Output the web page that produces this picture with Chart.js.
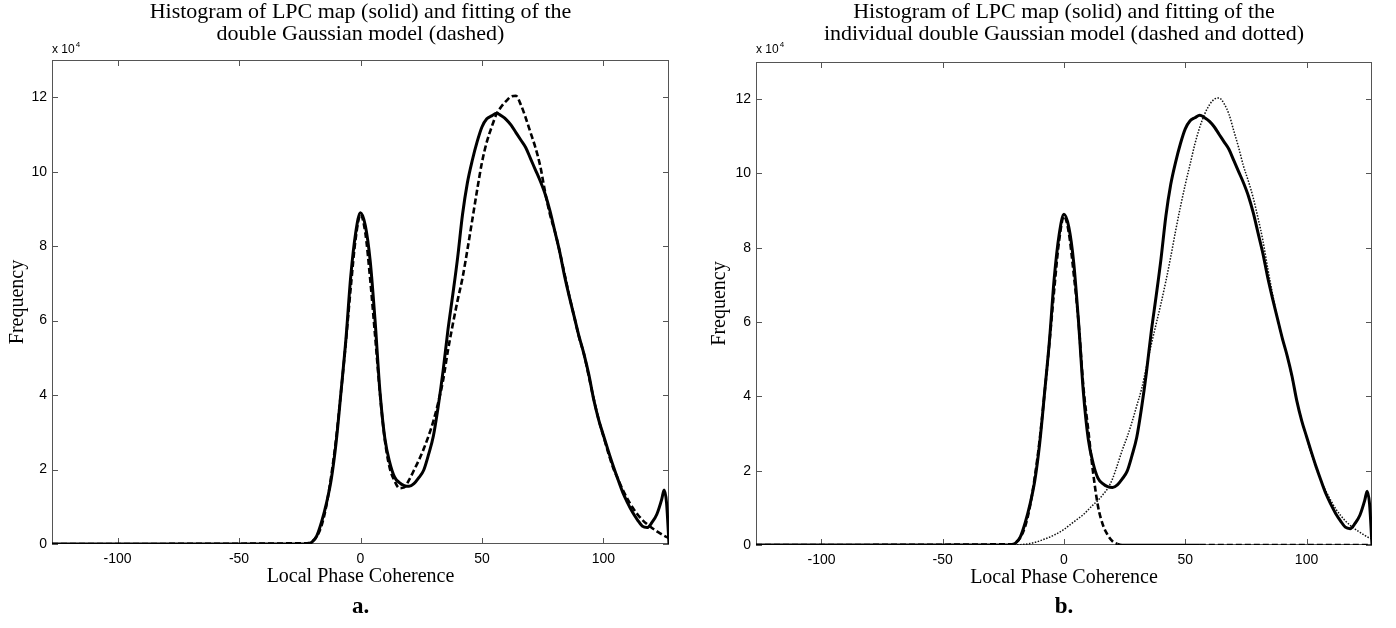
<!DOCTYPE html>
<html>
<head>
<meta charset="utf-8">
<title>LPC histogram and double Gaussian fit</title>
<script src="https://cdn.jsdelivr.net/npm/chart.js@4/dist/chart.umd.min.js"></script>
<style>
  html, body { margin: 0; padding: 0; background: #fff; }
  #wrap { position: relative; width: 1396px; height: 628px; }
  canvas { position: absolute; top: 0; }
  #chartA { left: 0; }
  #chartB { left: 698px; }
</style>
</head>
<body>
<div id="wrap">
  <canvas id="chartA" width="698" height="628"></canvas>
  <canvas id="chartB" width="698" height="628"></canvas>
</div>
<script>
// LPC values (x) where the curves are sampled
const lpcLevels = [-127,
  -22, -20, -18, -16, -14, -12, -10, -8, -6, -4, -2, 0, 2, 4, 6, 8, 10, 12, 14, 16,
  18, 20, 22, 24, 26, 28, 30, 32, 34, 36, 38, 40, 42, 44, 46, 48, 50, 52, 54, 56,
  58, 60, 62, 64, 66, 68, 70, 72, 74, 76, 78, 80, 82, 84, 86, 88, 90, 92, 94, 96,
  98, 100, 102, 104, 106, 108, 110, 112, 114, 116, 118, 120, 122, 124, 125, 126, 127];

// all frequencies are in units of 10^4
// histogram of the LPC map (solid)
const histCounts = [0,
  0, 0.05, 0.22, 0.6, 1.1, 1.75, 2.75, 4.1, 5.5, 7.2, 8.35, 8.9, 8.55, 7.6, 6.0, 4.1, 2.85, 2.2, 1.8, 1.65,
  1.57, 1.55, 1.62, 1.78, 1.98, 2.4, 2.9, 3.7, 4.65, 5.75, 6.7, 7.7, 8.85, 9.7, 10.3, 10.8, 11.2, 11.42, 11.5, 11.57,
  11.5, 11.4, 11.25, 11.05, 10.85, 10.65, 10.35, 10.05, 9.75, 9.4, 8.95, 8.4, 7.85, 7.2, 6.63, 6.1, 5.57, 5.1, 4.55, 3.88,
  3.35, 2.92, 2.5, 2.1, 1.73, 1.38, 1.1, 0.85, 0.65, 0.48, 0.44, 0.58, 0.8, 1.2, 1.45, 1.1, 0];

// double Gaussian model (sum of both components)
const fitSum = [0,
  0.02, 0.06, 0.2, 0.5, 1.05, 1.85, 2.85, 4.1, 5.45, 6.9, 8.2, 8.85, 8.35, 7.1, 5.6, 4.05, 2.8, 2.05, 1.7, 1.5,
  1.52, 1.72, 1.98, 2.25, 2.55, 2.9, 3.3, 3.8, 4.4, 5.2, 5.9, 6.55, 7.15, 7.9, 8.7, 9.5, 10.25, 10.8, 11.2, 11.55,
  11.75, 11.9, 12.02, 12.04, 11.8, 11.45, 11.05, 10.65, 10.15, 9.45, 8.85, 8.4, 7.85, 7.25, 6.65, 6.1, 5.55, 5.1, 4.5, 3.9,
  3.35, 2.9, 2.45, 2.05, 1.75, 1.45, 1.2, 0.98, 0.8, 0.65, 0.53, 0.43, 0.34, 0.26, 0.22, 0.19, 0.16];

// first Gaussian component (dashed)
const fitLow = [0,
  0.02, 0.06, 0.2, 0.5, 1.05, 1.85, 2.85, 4.1, 5.45, 6.9, 8.2, 8.85, 8.4, 7.3, 6.0, 4.25, 3.1, 1.95, 1.05, 0.55,
  0.27, 0.1, 0.03, 0, 0, 0, 0, 0, 0, 0, 0, 0, 0, 0, 0, 0, 0, 0, 0, 0,
  0, 0, 0, 0, 0, 0, 0, 0, 0, 0, 0, 0, 0, 0, 0, 0, 0, 0, 0, 0,
  0, 0, 0, 0, 0, 0, 0, 0, 0, 0, 0, 0, 0, 0, 0, 0, 0];

// second Gaussian component (dotted)
const fitHigh = [0,
  0, 0.005, 0.01, 0.02, 0.04, 0.07, 0.11, 0.16, 0.21, 0.27, 0.34, 0.42, 0.52, 0.62, 0.72, 0.82, 0.95, 1.08, 1.2, 1.35,
  1.52, 1.78, 2.15, 2.55, 2.9, 3.3, 3.75, 4.2, 4.8, 5.4, 5.95, 6.5, 7.1, 7.75, 8.45, 9.1, 9.7, 10.25, 10.8, 11.25,
  11.6, 11.85, 12.0, 12.03, 11.88, 11.6, 11.15, 10.7, 10.2, 9.8, 9.35, 8.8, 8.2, 7.45, 6.75, 6.1, 5.55, 5.1, 4.5, 3.9,
  3.35, 2.9, 2.45, 2.05, 1.72, 1.45, 1.2, 0.98, 0.8, 0.65, 0.53, 0.43, 0.34, 0.26, 0.22, 0.19, 0.16];

const xTicks = [-100, -50, 0, 50, 100];
const yTicks = [0, 2, 4, 6, 8, 10, 12];

const serif = '"Liberation Serif", "Times New Roman", serif';
const sans = '"Liberation Sans", Arial, sans-serif';

// MATLAB style box with inward ticks, titles, exponent label and caption
const matlabAxes = {
  id: 'matlabAxes',
  beforeDatasetsDraw(chart) {
    const { ctx, chartArea: a, scales: { x, y } } = chart;
    ctx.save();
    ctx.strokeStyle = '#555';
    ctx.lineWidth = 1;
    ctx.strokeRect(a.left + 0.5, a.top + 0.5, a.right - a.left - 1, a.bottom - a.top - 1);
    ctx.beginPath();
    x.ticks.forEach(t => {
      const px = Math.round(x.getPixelForValue(t.value)) + 0.5;
      ctx.moveTo(px, a.bottom); ctx.lineTo(px, a.bottom - 6);
      ctx.moveTo(px, a.top); ctx.lineTo(px, a.top + 6);
    });
    y.ticks.forEach(t => {
      const py = Math.round(y.getPixelForValue(t.value)) + 0.5;
      ctx.moveTo(a.left, py); ctx.lineTo(a.left + 6, py);
      ctx.moveTo(a.right, py); ctx.lineTo(a.right - 6, py);
    });
    ctx.stroke();
    ctx.restore();
  },
  afterDraw(chart, args, opts) {
    const { ctx, chartArea: a } = chart;
    const cx = (a.left + a.right) / 2;
    ctx.save();
    ctx.fillStyle = '#000';
    ctx.textAlign = 'center';
    ctx.textBaseline = 'middle';
    ctx.font = '22px ' + serif;
    ctx.fillText(opts.title[0], cx, 12);
    ctx.fillText(opts.title[1], cx, 34);
    // axis multiplier
    ctx.textAlign = 'left';
    ctx.font = '12px ' + sans;
    ctx.fillText('x 10', a.left, 50);
    const w = ctx.measureText('x 10').width;
    ctx.font = '8px ' + sans;
    ctx.fillText('4', a.left + w + 1, 45);
    // panel caption
    ctx.textAlign = 'center';
    ctx.font = 'bold 23px ' + serif;
    ctx.fillText(opts.caption, cx, 607);
    ctx.restore();
  }
};

function curve(values, style) {
  return Object.assign({
    data: lpcLevels.map((v, i) => ({ x: v, y: values[i] })),
    borderColor: '#000',
    borderWidth: 3,
    pointRadius: 0,
    fill: false,
    cubicInterpolationMode: 'monotone'
  }, style);
}

function makeChart(id, g, datasets, title, caption) {
  return new Chart(document.getElementById(id), {
    type: 'line',
    data: { datasets: datasets },
    options: {
      responsive: false,
      animation: false,
      events: [],
      layout: { padding: { left: 0, right: 698 - g.right, top: g.top, bottom: 628 - g.bottom - 46 } },
      scales: {
        x: {
          type: 'linear',
          min: -127,
          max: 127,
          grid: { display: false, drawTicks: false },
          border: { display: false },
          afterBuildTicks: s => { s.ticks = xTicks.map(v => ({ value: v })); },
          afterFit: s => { s.height = 46; },
          ticks: { autoSkip: false, maxRotation: 0, padding: 7, color: '#000', font: { family: sans, size: 14 } },
          title: { display: true, text: 'Local Phase Coherence', color: '#000',
                   font: { family: serif, size: 20 }, padding: { top: 0, bottom: 1 } }
        },
        y: {
          min: 0,
          max: 13,
          grid: { display: false, drawTicks: false },
          border: { display: false },
          afterBuildTicks: s => { s.ticks = yTicks.map(v => ({ value: v })); },
          afterFit: s => { s.width = g.left; },
          ticks: { autoSkip: false, padding: 5, color: '#000', font: { family: sans, size: 14 } },
          title: { display: true, text: 'Frequency', color: '#000',
                   font: { family: serif, size: 20 }, padding: { top: g.yTitleGap, bottom: 0 } }
        }
      },
      plugins: {
        legend: { display: false },
        tooltip: { enabled: false },
        matlabAxes: { title: title, caption: caption }
      }
    },
    plugins: [matlabAxes]
  });
}

// a. histogram with the fitted double Gaussian
makeChart('chartA', { left: 52, right: 669, top: 60, bottom: 544, yTitleGap: 6 }, [
  curve(histCounts),
  curve(fitSum, { borderWidth: 2.6, borderDash: [6, 3] })
], ['Histogram of LPC map (solid) and fitting of the', 'double Gaussian model (dashed)'], 'a.');

// b. histogram with the two Gaussian components drawn separately
makeChart('chartB', { left: 58, right: 674, top: 62, bottom: 545, yTitleGap: 10 }, [
  curve(histCounts),
  curve(fitLow, {
    borderWidth: 2.6,
    borderDash: [6, 3],
    segment: { borderDash: c => (c.p0.parsed.x >= 22 && c.p1.parsed.x <= 56) ? [] : undefined }
  }),
  curve(fitHigh, { borderWidth: 1.5, borderColor: '#111', borderDash: [1.5, 1.5] })
], ['Histogram of LPC map (solid) and fitting of the', 'individual double Gaussian model (dashed and dotted)'], 'b.');
</script>
</body>
</html>
